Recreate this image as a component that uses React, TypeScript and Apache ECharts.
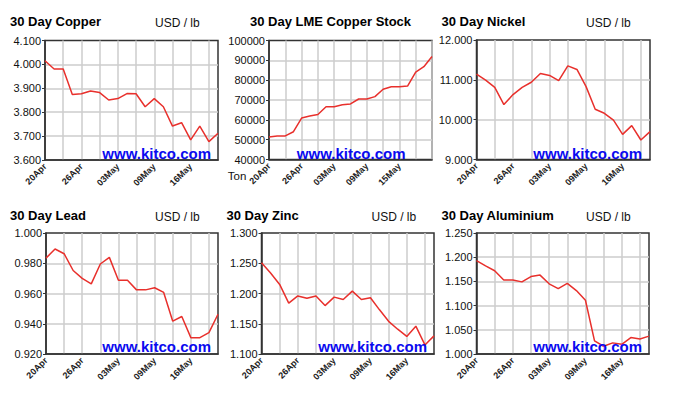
import React, { useEffect, useRef } from "react";
import * as echarts from "echarts";

// ---- data ----
const metalDates = [
  "20Apr", "23Apr", "24Apr", "25Apr", "26Apr", "27Apr", "30Apr", "02May", "03May", "04May",
  "07May", "08May", "09May", "10May", "11May", "15May", "16May", "17May", "18May", "21May",
];
const lmeDates = [
  "20Apr", "23Apr", "24Apr", "25Apr", "26Apr", "27Apr", "30Apr", "02May", "03May", "04May",
  "07May", "08May", "09May", "10May", "11May", "14May", "15May", "16May", "17May", "18May", "21May",
];

const copperValues = [
  4.015, 3.981, 3.981, 3.874, 3.877, 3.889, 3.882, 3.851, 3.857, 3.878,
  3.877, 3.823, 3.857, 3.823, 3.742, 3.756, 3.684, 3.742, 3.677, 3.712,
];
const lmeStockValues = [
  51400, 51900, 51900, 54000, 60900, 61900, 62700, 66600, 66600, 67600, 68000,
  70500, 70500, 71700, 75400, 76700, 76700, 77000, 84100, 86800, 91900,
];
const nickelValues = [
  11.145, 10.994, 10.81, 10.38, 10.63, 10.81, 10.94, 11.16, 11.11, 10.98,
  11.35, 11.26, 10.83, 10.26, 10.16, 9.99, 9.63, 9.85, 9.49, 9.7,
];
const leadValues = [
  0.9834, 0.9894, 0.9863, 0.9752, 0.97, 0.9664, 0.9795, 0.9839, 0.9688, 0.9688,
  0.9624, 0.9624, 0.9638, 0.9607, 0.9417, 0.9448, 0.9308, 0.9308, 0.9341, 0.9463,
];
const zincValues = [
  1.251, 1.234, 1.215, 1.184, 1.196, 1.192, 1.196, 1.18, 1.194, 1.19,
  1.204, 1.19, 1.193, 1.173, 1.154, 1.141, 1.129, 1.146, 1.115, 1.13,
];
const aluminiumValues = [
  1.193, 1.182, 1.172, 1.153, 1.153, 1.149, 1.16, 1.163, 1.145, 1.135,
  1.146, 1.131, 1.111, 1.027, 1.016, 1.023, 1.02, 1.034, 1.031, 1.037,
];

const panelTitles = [
  "30 Day Copper", "30 Day LME Copper Stock", "30 Day Nickel",
  "30 Day Lead", "30 Day Zinc", "30 Day Aluminium",
];
const unitLabels = ["USD / lb", "", "USD / lb", "USD / lb", "USD / lb", "USD / lb"];
const yMins = [3.6, 40000, 9, 0.92, 1.1, 1.0];
const yMaxs = [4.1, 100000, 12, 1.0, 1.3, 1.25];
const yIntervals = [0.1, 10000, 1, 0.02, 0.05, 0.05];
const yDecimals = [3, 0, 3, 3, 3, 3];
const labelEvery = 4;
const lastLabelIndex = 16;
const stockUnit = "Ton";
const watermark = "www.kitco.com";

// ---- layout ----
const grids = [
  { left: 45, top: 40.5, width: 173, height: 119.5 },
  { left: 269, top: 40.5, width: 163, height: 119 },
  { left: 476.5, top: 40, width: 173.5, height: 119.5 },
  { left: 46, top: 233, width: 172, height: 121 },
  { left: 261.5, top: 233, width: 172.5, height: 121 },
  { left: 476.5, top: 233, width: 172.5, height: 121 },
];
const titlePos = [
  { x: 10, y: 21.7, align: "left" },
  { x: 330.5, y: 21.7, align: "center" },
  { x: 441.5, y: 21.7, align: "left" },
  { x: 10, y: 215, align: "left" },
  { x: 226.5, y: 215, align: "left" },
  { x: 441.5, y: 215, align: "left" },
];
const unitPos = [
  { x: 155, y: 23.3 },
  { x: 0, y: 0 },
  { x: 586, y: 23.3 },
  { x: 155, y: 216.7 },
  { x: 371.5, y: 216.7 },
  { x: 586, y: 216.7 },
];
const markPos = [
  { x: 211, y: 153.3 },
  { x: 405.5, y: 153 },
  { x: 642, y: 153 },
  { x: 211, y: 346.7 },
  { x: 427, y: 346.7 },
  { x: 642, y: 346.7 },
];

const FONT = "'Liberation Sans', Arial, Helvetica, sans-serif";
const LINE_RED = "#e8302c";
const GRID_GRAY = "#cccccc";
const FRAME = "#333333";

export default function App() {
  const ref = useRef<HTMLDivElement>(null);

  useEffect(() => {
    if (!ref.current) return;
    const chart = echarts.init(ref.current, undefined, { renderer: "svg" });
    const seriesValues = [copperValues, lmeStockValues, nickelValues, leadValues, zincValues, aluminiumValues];
    const seriesDates = [metalDates, lmeDates, metalDates, metalDates, metalDates, metalDates];

    const graphics: any[] = [];
    panelTitles.forEach((t, i) => {
      graphics.push({
        type: "text",
        x: titlePos[i].x,
        y: titlePos[i].y,
        z: 10,
        style: {
          text: t,
          font: `bold 13px ${FONT}`,
          fill: "#000",
          textAlign: titlePos[i].align,
          textVerticalAlign: "middle",
        },
      });
      if (unitLabels[i]) {
        graphics.push({
          type: "text",
          x: unitPos[i].x,
          y: unitPos[i].y,
          z: 10,
          style: {
            text: unitLabels[i],
            font: `12px ${FONT}`,
            fill: "#111",
            textAlign: "left",
            textVerticalAlign: "middle",
          },
        });
      }
      graphics.push({
        type: "text",
        x: markPos[i].x,
        y: markPos[i].y,
        z: 20,
        style: {
          text: watermark,
          font: `bold 15px ${FONT}`,
          fill: "#0a0aef",
          textAlign: "right",
          textVerticalAlign: "middle",
        },
      });
    });
    graphics.push({
      type: "text",
      x: 237,
      y: 176,
      z: 10,
      style: {
        text: stockUnit,
        font: `11.5px ${FONT}`,
        fill: "#111",
        textAlign: "center",
        textVerticalAlign: "middle",
      },
    });

    chart.setOption({
      animation: false,
      backgroundColor: "#ffffff",
      textStyle: { fontFamily: FONT },
      grid: grids.map((g) => ({
        ...g,
        show: true,
        borderColor: FRAME,
        borderWidth: 1.5,
        backgroundColor: "transparent",
        containLabel: false,
      })),
      xAxis: seriesDates.map((d, i) => ({
        type: "category",
        gridIndex: i,
        data: d,
        boundaryGap: false,
        axisLine: { show: true, lineStyle: { color: FRAME, width: 1.5 } },
        axisTick: { show: false },
        axisLabel: {
          interval: (idx: number) => idx % labelEvery === 0 && idx <= lastLabelIndex,
          rotate: 45,
          fontSize: 9,
          fontWeight: "bold",
          color: "#222",
          margin: 5,
          fontFamily: FONT,
        },
        splitLine: {
          show: true,
          interval: 1,
          showMinLine: false,
          lineStyle: { color: GRID_GRAY, width: 1.5 },
        },
      })),
      yAxis: yMins.map((mn, i) => ({
        type: "value",
        gridIndex: i,
        min: mn,
        max: yMaxs[i],
        interval: yIntervals[i],
        axisLine: { show: true, lineStyle: { color: FRAME, width: 1.5 } },
        axisTick: { show: true, length: 3, lineStyle: { color: FRAME, width: 1 } },
        axisLabel: {
          fontSize: 11,
          color: "#111",
          margin: 4,
          fontFamily: FONT,
          formatter: (v: number) => v.toFixed(yDecimals[i]),
        },
        splitLine: {
          show: true,
          showMinLine: false,
          showMaxLine: false,
          lineStyle: { color: GRID_GRAY, width: 1.5 },
        },
      })),
      series: seriesValues.map((vals, i) => ({
        type: "line",
        xAxisIndex: i,
        yAxisIndex: i,
        data: vals,
        showSymbol: false,
        symbol: "none",
        lineStyle: { color: LINE_RED, width: 1.5 },
        z: 5,
      })),
      graphic: graphics,
    });

    return () => chart.dispose();
  }, []);

  return (
    <div
      ref={ref}
      style={{ position: "fixed", left: 0, top: 0, width: 674, height: 395, background: "#fff" }}
    />
  );
}
